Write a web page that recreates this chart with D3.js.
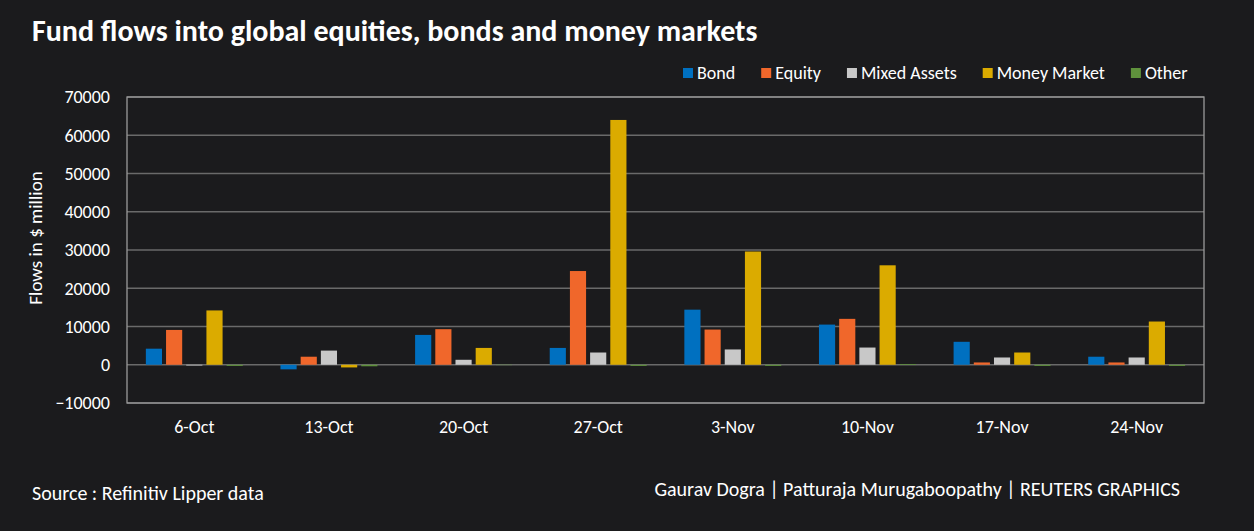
<!DOCTYPE html>
<html><head><meta charset="utf-8">
<script src="https://cdn.jsdelivr.net/npm/d3@7"></script>
<style>
html,body{margin:0;padding:0;background:#1b1b1d;}
svg{display:block;}
text{font-family:Carlito,"Open Sans",sans-serif;fill:#ffffff;}
</style></head>
<body>
<svg id="c" width="1254" height="531"></svg>
<script>
const categories = ["6-Oct","13-Oct","20-Oct","27-Oct","3-Nov","10-Nov","17-Nov","24-Nov"];
const seriesNames = ["Bond","Equity","Mixed Assets","Money Market","Other"];
const bond        = [4200, -1200, 7800, 4400, 14400, 10500, 6000, 2100];
const equity      = [9100, 2100, 9300, 24500, 9200, 12000, 600, 600];
const mixedAssets = [-200, 3700, 1300, 3200, 4000, 4500, 1900, 1900];
const moneyMarket = [14200, -700, 4400, 64000, 29600, 26000, 3200, 11300];
const other       = [-300, -400, -100, -300, -300, 200, -300, -300];
const yTicks = [-10000,0,10000,20000,30000,40000,50000,60000,70000];
const colors = ["#0070c0","#f0672b","#c8c8c8","#dbab00","#5f923c"];

const seriesValues = [bond, equity, mixedAssets, moneyMarket, other];
const W=1254,H=531;
const m={left:127,right:50,top:97,bottom:128};
const FF='Carlito,"Open Sans",sans-serif';
const svg=d3.select("#c");
const x0=d3.scaleBand().domain(categories).range([m.left,W-m.right]).paddingInner(0.28).paddingOuter(0.14);
const x1=d3.scaleBand().domain(seriesNames).range([0,x0.bandwidth()]).paddingInner(0.2).paddingOuter(0);
const y=d3.scaleLinear().domain([-10000,70000]).range([H-m.bottom,m.top]);

// grid
svg.append("g").selectAll("line").data(yTicks).join("line")
 .attr("x1",m.left).attr("x2",W-m.right).attr("y1",d=>y(d)).attr("y2",d=>y(d))
 .attr("stroke","#6a6a6a").attr("stroke-width",1.3);

// bars
const g=svg.append("g");
categories.forEach((c,i)=>{
  seriesNames.forEach((s,j)=>{
    const v=seriesValues[j][i];
    g.append("rect").attr("x",x0(c)+x1(s)).attr("width",x1.bandwidth())
     .attr("y",y(Math.max(0,v))).attr("height",Math.abs(y(v)-y(0)))
     .attr("fill",colors[j]);
  });
});

// border
svg.append("rect").attr("x",m.left).attr("y",m.top).attr("width",W-m.right-m.left).attr("height",H-m.bottom-m.top)
 .attr("fill","none").attr("stroke","#9a9a9a").attr("stroke-width",1.3);

// y axis
const ya=svg.append("g").attr("transform",`translate(${m.left},0)`).call(d3.axisLeft(y).tickValues(yTicks).tickSize(0).tickPadding(17).tickFormat(d3.format("d")));
ya.select(".domain").remove();
ya.selectAll("text").style("font-size","18px").attr("fill","#fff").style("font-family",FF);

// x axis
const xa=svg.append("g").attr("transform",`translate(0,${H-m.bottom})`).call(d3.axisBottom(x0).tickSize(0).tickPadding(17));
xa.select(".domain").remove();
xa.selectAll("text").style("font-size","18px").attr("fill","#fff").style("font-family",FF);

// y title
svg.append("text").attr("transform","translate(42,238) rotate(-90)").attr("text-anchor","middle").style("font-size","19px").text("Flows in $ million");

// title
svg.append("text").attr("x",32).attr("y",41).style("font-size","30px").style("font-weight","bold").text("Fund flows into global equities, bonds and money markets");

// legend
const lg=svg.append("g").attr("transform","translate(683,73)");
let lx=0;
seriesNames.forEach((s,j)=>{
  const it=lg.append("g").attr("transform",`translate(${lx},0)`);
  it.append("rect").attr("x",0).attr("y",-5).attr("width",10).attr("height",10).attr("fill",colors[j]);
  const t=it.append("text").attr("x",14).attr("dy","0.35em").style("font-size","18px").text(s);
  lx+=14+t.node().getComputedTextLength()+26;
});

// footer
svg.append("text").attr("x",32).attr("y",500).style("font-size","20px").text("Source : Refinitiv Lipper data");
svg.append("text").attr("x",1180).attr("y",496).attr("text-anchor","end").style("font-size","20px").text("Gaurav Dogra | Patturaja Murugaboopathy | REUTERS GRAPHICS");
</script>
</body></html>
